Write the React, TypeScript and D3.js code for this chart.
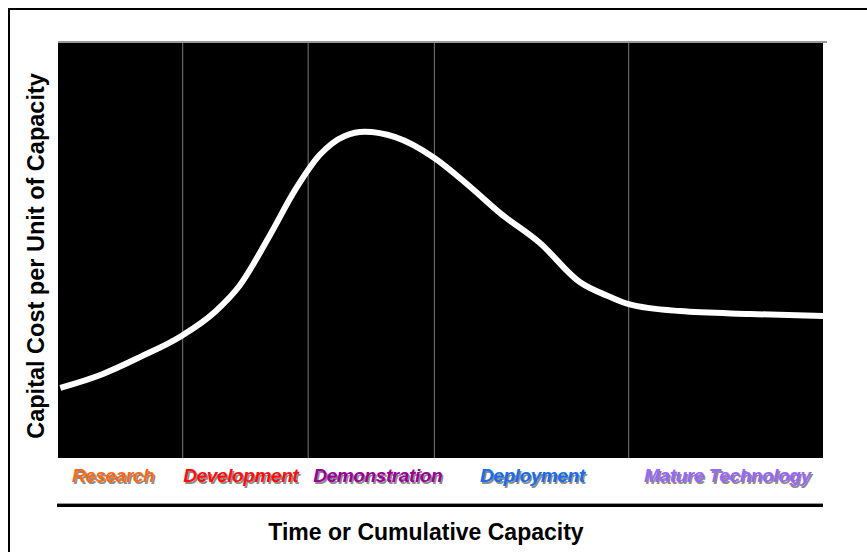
import React, { useEffect, useRef } from 'react';
import * as d3 from 'd3';

// stage boundaries along the time axis (0..100)
const stageBreaks = [16.3, 32.7, 49.2, 74.6];
const stageNames = ['Research', 'Development', 'Demonstration', 'Deployment', 'Mature Technology'];
const stageLabelAt = [7.2, 23.9, 41.8, 62.0, 87.5];
const stageColors = ['#ff6a13', '#ff1010', '#990099', '#1a6cf0', '#9966ff'];

// capital cost curve (relative units)
const timeValues = [0.3, 5.8, 10.7, 16.3, 20.5, 23.8, 27.7, 31.0, 34.2, 37.5, 40.1, 44.1, 49.2, 53.9, 57.8, 63.0, 68.2, 72.2, 74.6, 81.3, 90.5, 100];
const costValues = [16.9, 20.2, 24.3, 29.6, 35.2, 41.7, 53.7, 64.6, 73.0, 77.6, 78.6, 77.3, 72.3, 65.3, 59.0, 51.8, 42.4, 38.8, 37.1, 35.4, 34.7, 34.2];

const W = 867;
const H = 552;

const App: React.FC = () => {
  const svgRef = useRef<SVGSVGElement>(null);

  useEffect(() => {
    if (!svgRef.current) return;
    const svg = d3.select(svgRef.current);
    svg.selectAll('*').remove();

    const left = 58, right = 823, top = 43, bottom = 458;

    const x = d3.scaleLinear().domain([0, 100]).range([left, right]);
    const y = d3.scaleLinear().domain([0, 100]).range([bottom, top]);

    svg.append('rect').attr('width', W).attr('height', H).attr('fill', '#fff');

    // outer frame (runs off the page to the right and bottom)
    svg.append('rect')
      .attr('x', 9).attr('y', 9)
      .attr('width', 900).attr('height', 600)
      .attr('fill', 'none')
      .attr('stroke', '#000')
      .attr('stroke-width', 2);

    // panel with a thin grey shadow on top
    svg.append('line')
      .attr('x1', left).attr('x2', right + 4)
      .attr('y1', top - 1).attr('y2', top - 1)
      .attr('stroke', '#777').attr('stroke-width', 1.5);
    svg.append('rect')
      .attr('x', left).attr('y', top)
      .attr('width', right - left).attr('height', bottom - top)
      .attr('fill', '#000');

    const g = svg.append('g');

    stageBreaks.forEach(b => {
      g.append('line')
        .attr('x1', x(b)).attr('x2', x(b))
        .attr('y1', top).attr('y2', bottom)
        .attr('stroke', '#7a7a7a')
        .attr('stroke-width', 1);
    });

    const pts = timeValues.map((t, i) => [t, costValues[i]] as [number, number]);
    const line = d3.line<[number, number]>()
      .x(d => x(d[0]))
      .y(d => y(d[1]))
      .curve(d3.curveMonotoneX);

    g.append('path')
      .datum(pts)
      .attr('d', line)
      .attr('fill', 'none')
      .attr('stroke', '#fff')
      .attr('stroke-width', 6)
      .attr('stroke-linecap', 'butt');

    // stage labels with drop shadow
    stageNames.forEach((name, i) => {
      const lx = x(stageLabelAt[i]);
      [['#8c8c8c', 1.5], [stageColors[i], 0]].forEach(([col, off]) => {
        svg.append('text')
          .attr('x', lx + (off as number))
          .attr('y', 482 + (off as number))
          .attr('text-anchor', 'middle')
          .attr('font-family', 'Liberation Sans, Arial, sans-serif')
          .attr('font-size', 19)
          .attr('font-weight', 'bold')
          .attr('font-style', 'italic')
          .attr('letter-spacing', -0.4)
          .attr('fill', col as string)
          .text(name);
      });
    });

    // axis rule under labels
    svg.append('line')
      .attr('x1', left - 1).attr('x2', right)
      .attr('y1', 503.5).attr('y2', 503.5)
      .attr('stroke', '#999').attr('stroke-width', 1);
    svg.append('line')
      .attr('x1', left - 1).attr('x2', right)
      .attr('y1', 505.5).attr('y2', 505.5)
      .attr('stroke', '#000').attr('stroke-width', 3);

    svg.append('text')
      .attr('x', 426).attr('y', 540)
      .attr('text-anchor', 'middle')
      .attr('font-family', 'Liberation Sans, Arial, sans-serif')
      .attr('font-size', 23)
      .attr('font-weight', 'bold')
      .attr('fill', '#000')
      .text('Time or Cumulative Capacity');

    svg.append('text')
      .attr('transform', 'translate(44,256) rotate(-90)')
      .attr('text-anchor', 'middle')
      .attr('font-family', 'Liberation Sans, Arial, sans-serif')
      .attr('font-size', 23.5)
      .attr('font-weight', 'bold')
      .attr('fill', '#000')
      .text('Capital Cost per Unit of Capacity');
  }, []);

  return (
    <svg
      ref={svgRef}
      width={W}
      height={H}
      style={{ position: 'absolute', left: 0, top: 0, display: 'block' }}
    />
  );
};

export default App;
